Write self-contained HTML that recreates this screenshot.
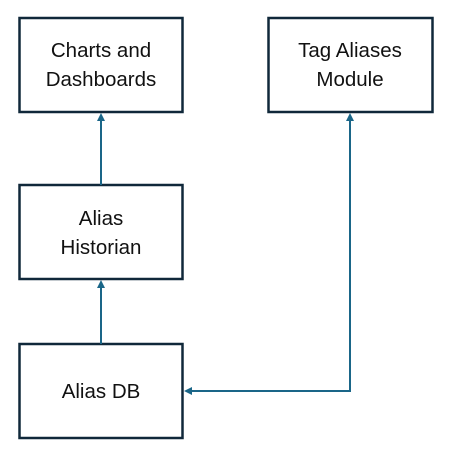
<!DOCTYPE html>
<html><head><style>
body{margin:0;background:#fff;}
svg{display:block;}
text{font-family:"Liberation Sans",sans-serif;font-size:20.5px;fill:#111;text-anchor:middle;}
</style></head><body>
<svg width="453" height="462" viewBox="0 0 453 462">
<g fill="none" stroke="#10283a" stroke-width="2.5">
<rect x="19.5" y="18" width="163" height="94"/>
<rect x="268.5" y="18" width="164" height="94"/>
<rect x="19.5" y="185" width="163" height="94"/>
<rect x="19.5" y="344" width="163" height="94"/>
</g>
<g stroke="#1a6688" stroke-width="2" fill="none">
<line x1="101" y1="185" x2="101" y2="120"/>
<line x1="101" y1="344" x2="101" y2="287"/>
<polyline points="350,120 350,391 191,391"/>
</g>
<g fill="#1a6688">
<polygon points="101,113 97,121 105,121"/>
<polygon points="101,280 97,288 105,288"/>
<polygon points="350,113 346,121 354,121"/>
<polygon points="184,391 192,387 192,395"/>
</g>
<text x="101" y="57">Charts and</text>
<text x="101" y="86">Dashboards</text>
<text x="350" y="57">Tag Aliases</text>
<text x="350" y="86">Module</text>
<text x="101" y="225">Alias</text>
<text x="101" y="254">Historian</text>
<text x="101" y="398">Alias DB</text>
</svg>
</body></html>
